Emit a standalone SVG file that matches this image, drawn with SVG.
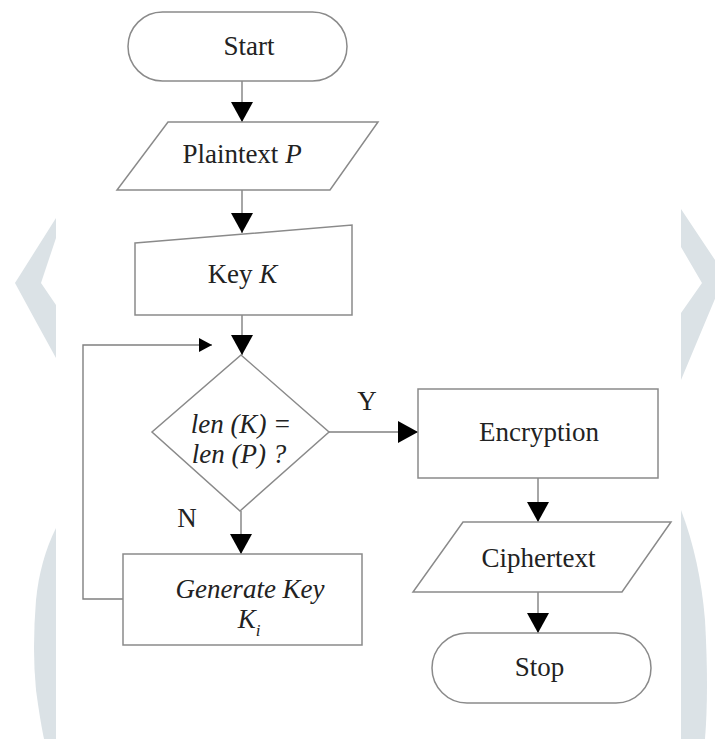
<svg xmlns="http://www.w3.org/2000/svg" width="715" height="739" viewBox="0 0 715 739">
<style>
.bg{fill:#dbe2e6;stroke:none}
.shape{fill:#fff;stroke:#8a8a8a;stroke-width:1.5}
.conn{fill:none;stroke:#808080;stroke-width:1.4}
.t{font-family:"Liberation Serif","Times New Roman",serif;font-size:27px;fill:#222;text-anchor:middle}
.i{font-style:italic}
</style>
<defs>
<marker id="arr" viewBox="0 0 20 22" markerWidth="20" markerHeight="22" refX="20" refY="11" orient="auto" markerUnits="userSpaceOnUse">
<path d="M0,0 L20,11 L0,22 Z" fill="#000"/>
</marker>
<marker id="arrs" viewBox="0 0 13 14" markerWidth="13" markerHeight="14" refX="13" refY="7" orient="auto" markerUnits="userSpaceOnUse">
<path d="M0,0 L13,7 L0,14 Z" fill="#000"/>
</marker>
</defs>
<rect width="715" height="739" fill="#fff"/>
<g id="background">
<path class="bg" d="M56,218 L15,283 Q35,320 56,358 L56,305 L41,283 L56,238 Z"/>
<path class="bg" d="M56,528 Q40,560 36,600 Q32,650 36,690 Q40,720 44,739 L56,739 Z"/>
<path class="bg" d="M681,209 L725,275 L681,380 L681,313 L702,283 L681,247 Z"/>
<path class="bg" d="M681,510 Q700,560 705,620 Q709,690 705,739 L681,739 Z"/>
</g>
<g id="connectors">
<path class="conn" d="M242,81 V122" marker-end="url(#arr)"/>
<path class="conn" d="M242,190 V233" marker-end="url(#arr)"/>
<path class="conn" d="M242,315 V355" marker-end="url(#arr)"/>
<path class="conn" d="M241,511 V554" marker-end="url(#arr)"/>
<path class="conn" d="M329,432 H418" marker-end="url(#arr)"/>
<path class="conn" d="M538,478 V522" marker-end="url(#arr)"/>
<path class="conn" d="M538,592 V633" marker-end="url(#arr)"/>
<path class="conn" d="M123,599 H83 V345 H212" marker-end="url(#arrs)"/>
<text class="t" x="367" y="410" font-size="25">Y</text>
<text class="t" x="187" y="527" font-size="25">N</text>
</g>
<g id="start">
<rect class="shape" x="128" y="12" width="219" height="69" rx="34.5"/>
<text class="t" x="249" y="55">Start</text>
</g>
<g id="plaintext">
<path class="shape" d="M168,122 L378,122 L330,190 L117,190 Z"/>
<text class="t" x="242" y="163">Plaintext <tspan class="i">P</tspan></text>
</g>
<g id="key">
<path class="shape" d="M135,243 L352,225 L352,315 L135,315 Z"/>
<text class="t" x="242.5" y="283">Key <tspan class="i">K</tspan></text>
</g>
<g id="decision">
<path class="shape" d="M241,355 L329,432 L240,511 L152,432 Z"/>
<text class="t i" x="241" y="433">len (K) =</text>
<text class="t i" x="239" y="463">len (P) ?</text>
</g>
<g id="generate">
<rect class="shape" x="123" y="554" width="239" height="91"/>
<text class="t i" x="250" y="598">Generate Key</text>
<text class="t i" x="249" y="628">K<tspan font-size="17" dy="8">i</tspan></text>
</g>
<g id="encryption">
<rect class="shape" x="418" y="389" width="240" height="89"/>
<text class="t" x="539" y="441">Encryption</text>
</g>
<g id="ciphertext">
<path class="shape" d="M463,522 L671,522 L622,592 L413,592 Z"/>
<text class="t" x="538.5" y="567">Ciphertext</text>
</g>
<g id="stop">
<rect class="shape" x="432" y="633" width="219" height="70" rx="35"/>
<text class="t" x="539.5" y="676">Stop</text>
</g>
</svg>
